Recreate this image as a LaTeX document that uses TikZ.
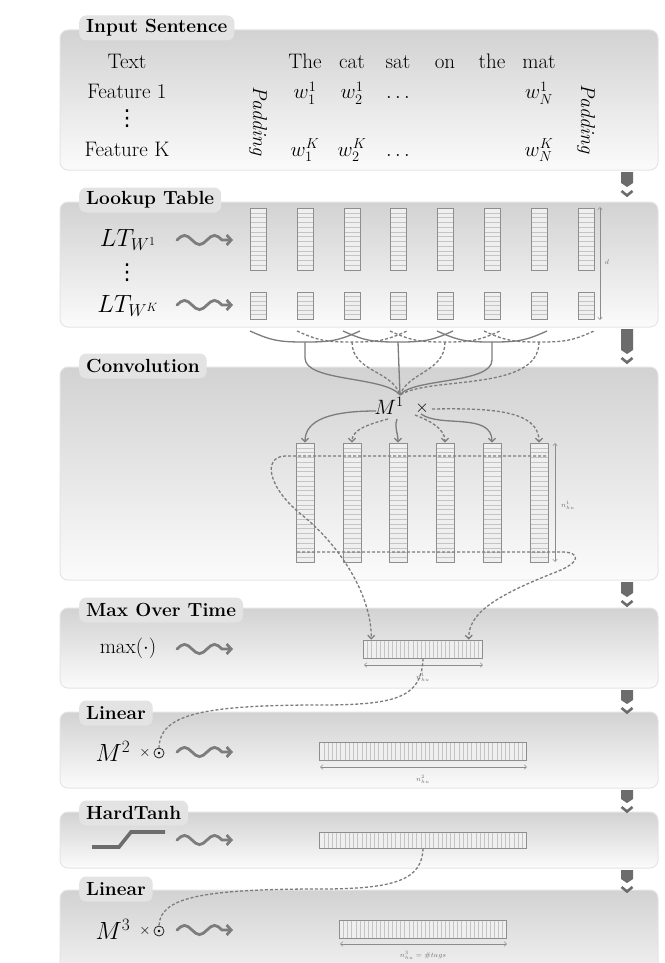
\documentclass[tikz,border=0pt]{standalone}
\usepackage{fontspec}
\newfontfamily\dejavu{DejaVu Sans}
\usetikzlibrary{calc,decorations.pathmorphing,arrows.meta}
\definecolor{paneltop}{HTML}{D2D2D2}
\definecolor{panelbot}{HTML}{FBFBFB}
\definecolor{tabc}{HTML}{E3E3E3}
\definecolor{linec}{HTML}{7C7C7C}
\definecolor{boxc}{HTML}{8E8E8E}
\definecolor{boxf}{HTML}{EFEFEF}
\definecolor{stripec}{HTML}{C4C4C4}
\definecolor{chev}{HTML}{6C6C6C}
\newcommand{\chevmark}[2]{%
  \fill[chev] (621,#1) -- (633,#1) -- (633,#2) -- (627,#2+4) -- (621,#2) -- cycle;
  \draw[chev, line width=2.6pt] (621.5,#2+8) -- (627,#2+12.5) -- (632.5,#2+8);
}
\newcommand{\squiggle}[2]{%
  \draw[squigline] (#1,#2) sin (#1+7.5,#2-4.6) cos (#1+15,#2) sin (#1+22.5,#2+4.6) cos (#1+30,#2) sin (#1+37.5,#2-4.6) cos (#1+45,#2) -- (#1+56,#2);
}
\begin{document}
\begin{tikzpicture}[x=1pt,y=-1pt,
  every node/.style={font=\fontsize{21}{24}\selectfont},
  panel/.style={rounded corners=8pt, top color=paneltop, bottom color=panelbot, draw=black!10, line width=1pt},
  tab/.style={fill=tabc, rounded corners=7pt, anchor=west, font=\fontsize{19}{22}\selectfont\bfseries, inner xsep=7pt, inner ysep=0pt, minimum height=25pt},
  cell/.style={draw=boxc, fill=boxf, line width=0.7pt, inner sep=0pt},
  hstr/.style={path picture={%
    \foreach \k in {1,...,#1}{%
      \pgfmathsetmacro\fr{\k/(#1+1)}%
      \draw[stripec, line width=0.45pt]
        ($(path picture bounding box.north west)!\fr!(path picture bounding box.south west)$) --
        ($(path picture bounding box.north east)!\fr!(path picture bounding box.south east)$);
    }}},
  vstr/.style={path picture={%
    \foreach \k in {1,...,#1}{%
      \pgfmathsetmacro\fr{\k/(#1+1)}%
      \draw[stripec, line width=0.45pt]
        ($(path picture bounding box.north west)!\fr!(path picture bounding box.north east)$) --
        ($(path picture bounding box.south west)!\fr!(path picture bounding box.south east)$);
    }}},
  squigline/.style={draw=linec, line width=2.8pt, line cap=round,
    -{Straight Barb[length=4.5pt,width=10pt]}},
  conn/.style={draw=linec, line width=1.3pt},
  dconn/.style={conn, dash pattern=on 3pt off 2pt},
  tipa/.style={-{Straight Barb[length=3.5pt,width=7pt]}},
  dimar/.style={draw=black!45, line width=0.5pt, {Straight Barb[length=2.5pt,width=4.5pt]}-{Straight Barb[length=2.5pt,width=4.5pt]}},
  small/.style={font=\fontsize{7}{8}\selectfont, text=black!55},
  dotc/.style={circle, draw=black!85, line width=0.8pt, inner sep=0pt, minimum size=10pt},
  icon/.style={draw=chev, line width=3.6pt},
  big/.style={font=\fontsize{23}{26}\selectfont, inner sep=1pt},
  lab/.style={inner sep=1pt},
  vdot/.style={font=\dejavu\fontsize{22}{22}\selectfont, inner sep=0pt}
]
\clip (0,0) rectangle (664,963);
\fill[white] (0,0) rectangle (664,963);

% ---------- panels ----------
\path[panel] (60,30) rectangle (658,170);
\node[tab] (tab1) at (79,28) {Input Sentence};
\path[panel] (60,202) rectangle (658,327);
\node[tab] (tab2) at (79,200) {Lookup Table};
\path[panel] (60,367) rectangle (658,580);
\node[tab] (tab3) at (79,366) {Convolution};
\path[panel] (60,608) rectangle (658,688);
\node[tab] (tab4) at (79,610) {Max Over Time};
\path[panel] (60,712) rectangle (658,788);
\node[tab] (tab5) at (79,713) {Linear};
\path[panel] (60,812) rectangle (658,868);
\node[tab] (tab6) at (79,813) {HardTanh};
\path[panel] (60,890) rectangle (658,1000);
\node[tab] (tab7) at (79,889) {Linear};

% ---------- chevrons ----------
\chevmark{172}{183}
\chevmark{329}{350}
\chevmark{582}{593}
\chevmark{690}{700}
\chevmark{790}{799}
\chevmark{870}{879}

% ---------- input sentence ----------
\node[lab, anchor=base] (ttext) at (127,69) {Text};
\node[lab, anchor=base] (tf1) at (127,99) {Feature 1};
\node[vdot] (tdots) at (127,119) {⋮};
\node[lab, anchor=base] (tfk) at (127,156) {Feature K};
\node[rotate=-90, font=\fontsize{20}{22}\selectfont] (padl) at (258,121) {\textit{Padding}};
\node[rotate=-90, font=\fontsize{20}{22}\selectfont] (padr) at (586,119) {\textit{Padding}};
\node[lab, anchor=base] (wd1) at (305,69) {The};
\node[lab, anchor=base] (wd2) at (352,69) {cat};
\node[lab, anchor=base] (wd3) at (398,69) {sat};
\node[lab, anchor=base] (wd4) at (445,69) {on};
\node[lab, anchor=base] (wd5) at (492,69) {the};
\node[lab, anchor=base] (wd6) at (539,69) {mat};
\node[lab, anchor=base] (wa1) at (305,99) {$w_1^1$};
\node[lab, anchor=base] (wa2) at (352,99) {$w_2^1$};
\node[lab, anchor=base] (wa3) at (398,99) {$\ldots$};
\node[lab, anchor=base] (wa6) at (539,99) {$w_N^1$};
\node[lab, anchor=base] (wk1) at (305,156) {$w_1^K$};
\node[lab, anchor=base] (wk2) at (352,156) {$w_2^K$};
\node[lab, anchor=base] (wk3) at (398,156) {$\ldots$};
\node[lab, anchor=base] (wk6) at (539,156) {$w_N^K$};

% ---------- lookup table ----------
\node[big] (lt1lab) at (128,240) {$LT_{W^1}$};
\node[vdot] (ltdots) at (127,273) {⋮};
\node[big] (ltklab) at (128,306) {$LT_{W^K}$};
\squiggle{177}{240}
\squiggle{177}{305}
\foreach \i/\x in {1/258,2/305,3/352,4/398,5/445,6/492,7/539,8/586}{
  \node[cell, hstr=12, minimum width=16pt, minimum height=62pt] (lt\i) at (\x,239) {};
  \node[cell, hstr=5, minimum width=16pt, minimum height=27pt] (lk\i) at (\x,305.5) {};
}
\draw[dimar] (600,207) -- (600,320);
\node[small] (dlab) at (607,262) {$d$};

% ---------- windows into convolution ----------
\foreach \L/\M/\R/\s in {250/305/360/conn, 297/352/407/dconn, 343/398/453/conn, 390/445/500/dconn, 437/492/547/conn, 484/539/594/dconn}
  \draw[\s] (\L,331) .. controls (\L+22,341) and (\M-25,342) .. (\M,342) .. controls (\M+25,342) and (\R-22,341) .. (\R,331);
\coordinate (b1) at (305,342);
\coordinate (b2) at (352,342);
\coordinate (b3) at (398,342);
\coordinate (b4) at (445,342);
\coordinate (b5) at (492,342);
\coordinate (b6) at (539,342);
\coordinate (mtop) at (400,395);
\draw[conn] (b1) -- (305,358) .. controls (305,382) and (385,376) .. (mtop);
\draw[dconn] (b2) .. controls (352,372) and (392,370) .. (mtop);
\draw[conn] (b3) -- (mtop);
\draw[dconn] (b4) .. controls (445,372) and (408,372) .. (mtop);
\draw[conn] (b5) -- (492,360) .. controls (492,384) and (412,378) .. (mtop);
\draw[dconn] (b6) .. controls (539,392) and (430,376) .. (mtop);

% ---------- convolution ----------
\node[font=\fontsize{21}{24}\selectfont] (m1) at (389,406) {$M^1$};
\node[font=\fontsize{18}{20}\selectfont] (x1) at (422,408) {$\times$};
\foreach \i/\x in {1/305,2/352,3/398,4/445,5/492,6/539}{
  \node[cell, hstr=24, minimum width=18pt, minimum height=119pt] (cv\i) at (\x,502.5) {};
}
\coordinate (o1) at (376,411);
\coordinate (o2) at (388,419);
\coordinate (o3) at (397,419);
\coordinate (o4) at (415,415);
\coordinate (o5) at (421,414);
\coordinate (o6) at (432,409);
\draw[conn,tipa] (o1) .. controls (330,411) and (305,420) .. (cv1.north);
\draw[dconn,tipa] (o2) .. controls (366,425) and (352,430) .. (cv2.north);
\draw[conn,tipa] (o3) .. controls (394,428) and (398,432) .. (cv3.north);
\draw[dconn,tipa] (o4) .. controls (428,420) and (445,428) .. (cv4.north);
\draw[conn,tipa] (o5) .. controls (440,428) and (492,412) .. (cv5.north);
\draw[dconn,tipa] (o6) .. controls (490,408) and (539,410) .. (cv6.north);
\draw[dimar] (555,443) -- (555,562);
\node[small] (n1lab) at (568,505) {$n^1_{hu}$};

% ---------- max over time ----------
\node (maxlab) at (128,648) {$\max(\cdot)$};
\squiggle{177}{649}
\node[cell, vstr=28, minimum width=119pt, minimum height=18pt] (mx) at (423,649) {};
\draw[dimar] (364,665) -- (483,665);
\node[small] (n1b) at (423,677) {$n^1_{hu}$};
\coordinate (mxa) at ($(mx.north west)+(8,0)$);
\coordinate (mxb) at ($(mx.north east)+(-14,0)$);
\coordinate (tlstart) at (546,456);
\coordinate (brstart) at (297,552);
\draw[dconn,tipa] (tlstart) -- (285,456) .. controls (262,457) and (268,488) .. (302,515) .. controls (345,550) and (372,600) .. (mxa);
\draw[dconn,tipa] (brstart) -- (562,552) .. controls (580,552) and (582,562) .. (556,572) .. controls (500,594) and (468,612) .. (mxb);

% ---------- linear 1 ----------
\node[big] (m2) at (113,751) {$M^2$};
\node[font=\fontsize{14}{15}\selectfont] (x2) at (145,753) {$\times$};
\node[dotc] (dot2) at (159,753) {};
\fill (dot2.center) circle (1.4pt);
\squiggle{177}{752}
\node[cell, vstr=48, minimum width=207pt, minimum height=18pt] (l2) at (423,751) {};
\draw[dimar] (320,767) -- (527,767);
\node[small] (n2lab) at (423,779) {$n^2_{hu}$};
\draw[dconn] (mx.south) .. controls (422,698) and (395,705) .. (320,705) .. controls (200,705) and (160,715) .. (dot2.north);

% ---------- hardtanh ----------
\draw[icon] (92,847) -- (119,847) -- (131,832) -- (165,832);
\squiggle{177}{840}
\node[cell, vstr=48, minimum width=207pt, minimum height=16pt] (ht) at (423,840) {};

% ---------- linear 2 ----------
\node[big] (m3) at (113,929) {$M^3$};
\node[font=\fontsize{14}{15}\selectfont] (x3) at (145,931) {$\times$};
\node[dotc] (dot3) at (159,931) {};
\fill (dot3.center) circle (1.4pt);
\squiggle{177}{930}
\node[cell, vstr=40, minimum width=167pt, minimum height=18pt] (l3) at (423,929) {};
\draw[dimar] (340,944) -- (507,944);
\node[small] (n3lab) at (423,955) {$n^3_{hu} = \#tags$};
\draw[dconn] (ht.south) .. controls (422,880) and (395,889) .. (320,889) .. controls (200,889) and (160,898) .. (dot3.north);
\end{tikzpicture}
\end{document}
